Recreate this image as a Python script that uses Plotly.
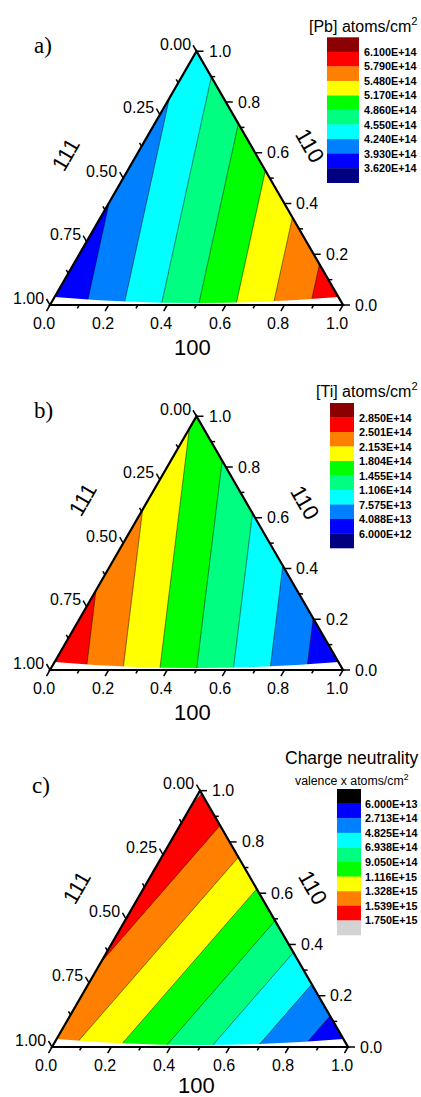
import numpy as np
import plotly.graph_objects as go

# ---------------- data ----------------
# facet order: 110 (top vertex), 111 (bottom-left vertex), 100 (bottom-right vertex)
facet_names = ["110", "111", "100"]
pb_facets = [4.38e14, 3.625e14, 6.06e14]
ti_facets = [1.75e14, 2.845e14, 0.065e14]
charge_facets = [1.77e15, 1.425e15, 0.065e15]

pb_levels = [3.620e14, 3.930e14, 4.240e14, 4.550e14, 4.860e14,
             5.170e14, 5.480e14, 5.790e14, 6.100e14]
ti_levels = [6.000e12, 4.088e13, 7.575e13, 1.106e14, 1.455e14,
             1.804e14, 2.153e14, 2.501e14, 2.850e14]
charge_levels = [6.000e13, 2.713e14, 4.825e14, 6.938e14, 9.050e14,
                 1.116e15, 1.328e15, 1.539e15, 1.750e15]

# colours: below-first-level, 8 bands, above-last-level
jet_colors = ["#000080", "#0000FF", "#0080FF", "#00FFFF", "#00FF80",
              "#00FF00", "#FFFF00", "#FF8000", "#FF0000", "#8B0000"]
charge_colors = ["#000000", "#0000FF", "#0080FF", "#00FFFF", "#00FF80",
                 "#00FF00", "#FFFF00", "#FF8000", "#FF0000", "#D3D3D3"]

bottom_major = [0.0, 0.2, 0.4, 0.6, 0.8, 1.0]
bottom_minor = [0.1, 0.3, 0.5, 0.7, 0.9]
right_major = [0.0, 0.2, 0.4, 0.6, 0.8, 1.0]
right_minor = [0.1, 0.3, 0.5, 0.7, 0.9]
left_major = [0.0, 0.25, 0.5, 0.75, 1.0]
left_minor = [0.125, 0.375, 0.625, 0.875]

axis_titles = {"bottom": "100", "left": "111", "right": "110"}

# ---------------- layout geometry (pixels) ----------------
FW, FH = 421, 1097
SANS = "Liberation Sans, Arial, sans-serif"
SERIF = "Liberation Serif, Times New Roman, serif"

panels = [
    dict(key="a", BLx=50, base=305, W=293, facets=pb_facets, levels=pb_levels,
         colors=jet_colors, legend_high_on_top=True,
         tag="a)", tag_xy=(32, 45), t111=(65, 155), t110=(310, 145), t100y=42,
         box=(327, 359, 37.3, 182.7), lab_x=362,
         titles=[("[Pb] atoms/cm<sup>2</sup>", 307, 25, 16)]),
    dict(key="b", BLx=50, base=670, W=293, facets=ti_facets, levels=ti_levels,
         colors=jet_colors, legend_high_on_top=True,
         tag="b)", tag_xy=(32, 410), t111=(82, 500), t110=(305, 502), t100y=42,
         box=(330, 354, 403, 548), lab_x=357,
         titles=[("[Ti] atoms/cm<sup>2</sup>", 314, 390, 16)]),
    dict(key="c", BLx=52, base=1047, W=296, facets=charge_facets, levels=charge_levels,
         colors=charge_colors, legend_high_on_top=False,
         tag="c)", tag_xy=(30, 785), t111=(76, 888), t110=(313, 887), t100y=38,
         box=(337, 361, 789, 935), lab_x=363,
         titles=[("Charge neutrality", 283, 758, 17.5),
                 ("valence x atoms/cm<sup>2</sup>", 293, 780, 12.3)]),
]

fig = go.Figure()
shapes = []
annots = []


def band_colorscale(colors):
    # plotly contour fill: band k sits at (k+1.5)/9, background at 0.5/9, top clamps to 1
    bounds = [k / 9 for k in range(9)] + [0.98, 1.0]
    scale = []
    for k, col in enumerate(colors):
        scale.append([bounds[k], col])
        scale.append([bounds[k + 1], col])
    return scale


def line(x0, y0, x1, y1, w=1.5, color="black"):
    shapes.append(dict(type="line", xref="x", yref="y", x0=x0, y0=y0, x1=x1, y1=y1,
                       line=dict(color=color, width=w), layer="above"))


def text(t, x, y, size, xanchor="center", yanchor="middle", family=SANS, angle=0):
    annots.append(dict(text=t, x=x, y=y, xref="x", yref="y", showarrow=False,
                       xanchor=xanchor, yanchor=yanchor, textangle=angle,
                       font=dict(family=family, size=size, color="black")))


S3 = np.sqrt(3) / 2

for P in panels:
    BLx, base, W = P["BLx"], P["base"], P["W"]
    H = W * S3
    BRx = BLx + W
    ax_, ay_ = BLx + W / 2, base - H

    # ---- contour surface over the triangle (linear mixing of facet values) ----
    xs = np.linspace(BLx, BRx, 121)
    ys = np.linspace(ay_, base, 105)
    X, Y = np.meshgrid(xs, ys)
    fa = (base - Y) / H
    fc = (X - BLx) / W - fa / 2
    fb = 1 - fa - fc
    Z = fa * P["facets"][0] + fb * P["facets"][1] + fc * P["facets"][2]
    lv = P["levels"]
    fig.add_trace(go.Contour(
        x=xs, y=ys, z=Z, autocontour=False,
        contours=dict(start=lv[0], end=lv[-1], size=(lv[-1] - lv[0]) / 8,
                      coloring="fill", showlines=True),
        line=dict(width=0.6, color="rgba(0,0,0,0.85)", smoothing=0),
        colorscale=band_colorscale(P["colors"]), showscale=False,
        hoverinfo="skip"))

    # ---- white masks outside triangle ----
    m = 3
    shapes.append(dict(type="path", xref="x", yref="y", layer="above",
                       path=f"M {BLx},{base} L {ax_},{ay_} L {ax_},{ay_-m} L {BLx-m},{ay_-m} L {BLx-m},{base} Z",
                       fillcolor="white", line=dict(width=0)))
    shapes.append(dict(type="path", xref="x", yref="y", layer="above",
                       path=f"M {BRx},{base} L {ax_},{ay_} L {ax_},{ay_-m} L {BRx+m},{ay_-m} L {BRx+m},{base} Z",
                       fillcolor="white", line=dict(width=0)))
    s = 8
    dx = s / np.tan(np.pi / 3)
    shapes.append(dict(type="path", xref="x", yref="y", layer="above",
                       path=(f"M {BLx+dx},{base-s} Q {ax_},{base-4+s} {BRx-dx},{base-s} "
                             f"L {BRx+m},{base+m} L {BLx-m},{base+m} Z"),
                       fillcolor="white", line=dict(width=0)))

    # ---- triangle frame ----
    shapes.append(dict(type="path", xref="x", yref="y", layer="above",
                       path=f"M {BLx},{base} L {ax_},{ay_} L {BRx},{base} Z",
                       line=dict(color="black", width=2.2)))

    # ---- bottom axis (100) ----
    ddx, ddy = -0.5, S3
    for t in bottom_major:
        x0 = BLx + t * W
        line(x0, base, x0 + 7 * ddx, base + 7 * ddy)
        text(f"{t:.1f}", x0 - 6, base + 18, 16)
    for t in bottom_minor:
        x0 = BLx + t * W
        line(x0, base, x0 + 4 * ddx, base + 4 * ddy)
    text(axis_titles["bottom"], BLx + W / 2 - 4, base + P["t100y"], 22)

    # ---- right axis (110) ----
    for t in right_major:
        x0, y0 = BRx - t * W / 2, base - t * H
        line(x0, y0, x0 + 7, y0)
        text(f"{t:.1f}", x0 + 10, y0, 16, xanchor="left")
    for t in right_minor:
        x0, y0 = BRx - t * W / 2, base - t * H
        line(x0, y0, x0 + 4, y0)
    text(axis_titles["right"], P["t110"][0], P["t110"][1], 22, angle=60)

    # ---- left axis (111) ----
    for t in left_major:
        x0, y0 = ax_ - t * W / 2, ay_ + t * H
        line(x0, y0, x0 - 3.5, y0 - 6)
        text(f"{t:.2f}", x0 - 4, y0 - 7, 16, xanchor="right")
    for t in left_minor:
        x0, y0 = ax_ - t * W / 2, ay_ + t * H
        line(x0, y0, x0 - 2, y0 - 3.5)
    text(axis_titles["left"], P["t111"][0], P["t111"][1], 22, angle=-60)

    # ---- panel tag ----
    text(P["tag"], P["tag_xy"][0], P["tag_xy"][1], 23, xanchor="left", family=SERIF)

    # ---- legend ----
    bx0, bx1, by0, by1 = P["box"]
    n = len(P["colors"])
    h = (by1 - by0) / n
    cols = P["colors"][::-1] if P["legend_high_on_top"] else P["colors"]
    labs = lv[::-1] if P["legend_high_on_top"] else lv
    for k, col in enumerate(cols):
        shapes.append(dict(type="rect", xref="x", yref="y", layer="above",
                           x0=bx0, x1=bx1, y0=by0 + k * h, y1=by0 + (k + 1) * h + 0.3,
                           fillcolor=col, line=dict(width=0)))
    for k, v in enumerate(labs):
        text(f"<b>{v:.3E}</b>", P["lab_x"], by0 + (k + 1) * h, 10.8, xanchor="left")
    for (t, x, y, sz) in P["titles"]:
        text(t, x, y, sz, xanchor="left")

fig.update_layout(
    width=FW, height=FH, margin=dict(l=0, r=0, t=0, b=0),
    paper_bgcolor="white", plot_bgcolor="white",
    xaxis=dict(range=[0, FW], visible=False, domain=[0, 1]),
    yaxis=dict(range=[FH, 0], visible=False, domain=[0, 1]),
    shapes=shapes, annotations=annots, showlegend=False,
)
fig.write_html("out.html")
